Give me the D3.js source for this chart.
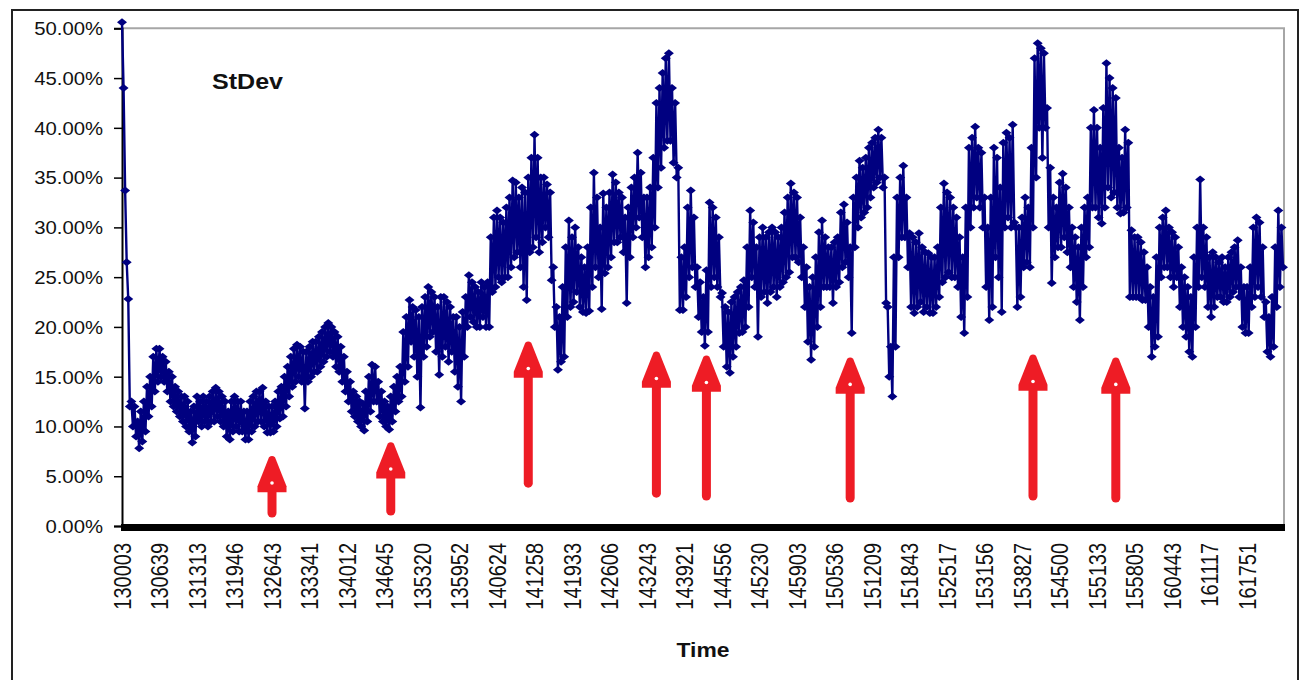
<!DOCTYPE html>
<html><head><meta charset="utf-8">
<script src="https://cdn.jsdelivr.net/npm/d3@7/dist/d3.min.js"></script>
<style>body{margin:0;background:#fff}svg{display:block}</style>
</head><body><svg id="c" width="1306" height="680"></svg>
<script>
// ---- data ----
const timeLabels = ["130003","130639","131313","131946","132643","133341","134012","134645","135320","135952",
  "140624","141258","141933","142606","143243","143921","144556","145230","145903","150536",
  "151209","151843","152517","153156","153827","154500","155133","155805","160443","161117","161751"];
const pointsPerLabel = 24;
// StDev readings (%), consecutive samples swing between the upper and lower edge of the band
const stdevValues = [
 50.6,44.0, 33.7,26.5, 22.8,12.0, 12.5,10.0, 12.0,9.0, 10.5,7.8, 11.5,8.5, 12.5,9.5, 14.0,11.0, 15.0,12.0, 17.0,13.5, 17.8,14.5,
 17.8,15.0, 17.0,14.5, 16.5,13.5, 15.5,12.5, 15.0,12.0, 14.0,11.5, 13.5,11.0, 13.0,10.5, 13.0,10.0, 12.5,9.5, 11.5,8.4, 12.0,9.0,
 13.0,10.5, 12.5,10.0, 13.0,10.5, 12.5,10.0, 13.0,10.5, 13.5,10.5, 13.9,11.0, 13.5,10.5, 13.0,10.0, 12.5,9.0, 11.5,8.7, 12.5,9.5,
 13.0,10.0, 12.5,9.5, 12.5,9.5, 11.5,8.7, 11.5,8.7, 12.5,9.5, 13.0,10.0, 13.5,10.5, 13.5,10.5, 13.9,10.0, 12.5,9.4, 12.0,9.4,
 12.0,9.5, 12.5,10.0, 13.5,10.8, 14.0,11.0, 15.0,12.0, 16.0,13.0, 17.0,14.0, 17.8,14.5, 18.2,15.0, 18.0,14.5, 17.5,11.8, 17.5,14.5,
 18.0,15.0, 18.5,15.5, 18.5,15.5, 19.0,16.0, 19.5,16.5, 20.0,17.0, 20.4,17.5, 20.0,17.0, 19.5,16.0, 19.0,15.5, 18.0,14.5, 17.0,13.5,
 15.5,12.5, 14.5,11.5, 13.5,11.0, 13.0,10.5, 12.5,10.0, 12.3,9.6, 13.5,10.5, 15.0,11.5, 16.2,12.5, 16.0,12.5, 14.5,11.0, 13.5,10.5,
 12.5,10.0, 12.0,9.7, 13.0,10.5, 14.0,11.5, 15.0,12.5, 16.0,13.0, 19.5,14.5, 21.0,16.0, 22.7,18.5, 22.0,17.0, 21.7,15.0, 21.0,11.9,
 22.0,17.0, 23.0,18.0, 24.0,19.0, 23.5,19.5, 23.0,17.5, 22.0,15.2, 23.0,17.0, 23.0,18.0, 22.5,16.5, 22.0,17.5, 21.0,15.5, 21.0,14.0,
 20.0,12.5, 21.5,17.0, 23.0,20.0, 25.2,21.0, 24.5,20.5, 24.0,20.0, 23.5,20.0, 24.5,21.0, 24.0,20.0, 24.5,20.0, 29.0,23.5, 31.0,24.0,
 31.7,25.0, 31.0,24.5, 30.5,25.0, 32.0,25.0, 33.0,26.0, 34.7,27.0, 34.5,27.5, 33.0,26.0, 34.0,24.0, 33.5,22.7, 35.0,27.5, 37.0,28.0,
 39.3,29.0, 37.0,27.5, 35.0,28.5, 35.0,30.0, 34.3,29.0, 33.5,24.7, 26.0,20.0, 22.0,15.7, 21.0,16.5, 24.0,17.0, 28.0,21.0, 30.7,22.0,
 29.0,22.5, 30.0,23.5, 28.0,22.0, 27.0,21.5, 26.0,21.4, 28.0,21.6, 32.0,24.0, 35.5,26.0, 33.0,25.0, 30.0,21.8, 33.4,25.4, 32.0,26.0,
 33.5,27.0, 35.3,28.5, 34.5,28.5, 33.5,29.0, 33.0,27.5, 31.0,22.4, 32.0,27.0, 34.0,29.0, 35.0,30.0, 37.5,31.0, 35.5,29.0, 33.0,26.0,
 33.0,27.0, 34.0,28.0, 37.0,30.0, 42.5,34.0, 44.0,36.0, 45.5,38.0, 47.0,38.7, 47.5,38.7, 44.0,36.5, 42.5,35.0, 36.0,21.7, 27.0,21.7,
 28.0,23.0, 32.0,25.0, 33.7,26.0, 31.0,24.0, 26.0,21.0, 24.5,19.5, 23.0,18.1, 25.7,19.5, 32.5,24.0, 32.0,25.0, 31.0,24.0, 29.0,23.0,
 23.4,18.0, 22.0,16.0, 21.5,15.4, 22.5,17.0, 23.0,18.0, 23.5,19.4, 24.0,19.5, 24.7,20.0, 28.0,22.0, 31.7,25.0, 30.5,24.0, 28.0,19.0,
 29.0,23.0, 30.0,23.5, 29.0,22.4, 29.5,23.5, 30.0,24.0, 29.5,23.0, 29.0,24.0, 30.0,24.5, 31.5,25.0, 33.0,25.5, 34.4,27.0, 33.5,27.0,
 33.0,26.5, 31.0,25.0, 28.0,22.0, 26.0,18.5, 24.0,16.7, 25.0,18.0, 27.0,20.0, 29.5,22.0, 30.7,24.0, 29.0,24.0, 28.0,24.0, 28.0,22.4,
 28.5,24.0, 29.0,24.5, 31.5,26.0, 32.3,26.5, 30.5,25.0, 28.0,19.4, 33.0,28.0, 35.0,30.0, 36.7,31.0, 36.0,31.5, 37.0,32.0, 38.0,33.0,
 38.5,34.0, 39.0,34.5, 39.8,35.0, 39.0,34.0, 35.0,22.4, 22.0,15.0, 18.0,13.0, 27.0,18.0, 33.0,27.0, 35.0,29.0, 36.2,29.0, 33.0,26.0,
 29.4,22.0, 29.0,21.4, 28.5,22.0, 29.4,22.5, 28.0,21.5, 27.5,22.0, 27.4,21.4, 27.0,21.4, 27.0,22.0, 28.0,23.0, 32.0,24.5, 34.4,25.0,
 33.5,25.5, 33.0,25.0, 32.0,25.0, 31.0,24.0, 29.0,21.0, 27.0,19.4, 32.0,23.0, 38.0,30.0, 39.0,32.0, 40.1,33.0, 38.0,32.0, 37.5,30.0,
 33.0,24.0, 30.0,20.7, 33.0,22.0, 38.0,27.0, 37.0,25.0, 34.0,21.5, 38.5,30.0, 39.5,31.0, 39.0,30.0, 40.3,30.5, 30.0,22.0, 30.0,23.0,
 31.0,26.0, 33.0,26.5, 32.0,26.0, 38.0,30.0, 47.0,35.0, 48.5,40.0, 48.0,37.0, 47.5,40.0, 42.0,30.0, 36.0,24.4, 33.0,27.0, 32.0,28.0,
 34.5,28.0, 35.4,29.0, 34.0,27.5, 32.0,26.0, 30.0,24.0, 29.0,22.5, 28.0,20.7, 30.0,24.0, 32.0,27.0, 33.0,28.0, 40.0,32.0, 41.8,32.0,
 40.0,31.0, 38.0,30.4, 42.0,32.0, 46.5,34.0, 45.0,33.0, 44.0,33.5, 43.0,32.0, 38.0,31.4, 37.0,31.5, 39.8,32.0, 38.5,23.0, 29.7,23.0,
 29.0,23.0, 29.0,23.0, 28.5,22.7, 27.5,22.7, 26.0,20.0, 24.0,17.0, 23.0,18.0, 27.0,19.0, 30.0,25.0, 31.0,26.0, 31.7,26.0, 30.0,25.0,
 29.5,24.0, 29.0,25.0, 28.0,22.0, 26.0,20.0, 25.0,19.0, 24.0,17.5, 23.0,17.0, 27.0,20.0, 30.0,24.0, 34.8,25.0, 30.0,24.0, 29.0,22.0,
 27.0,21.0, 27.5,22.0, 27.0,23.0, 26.5,23.0, 27.0,22.5, 26.0,22.5, 27.0,23.0, 27.5,23.5, 28.0,24.0, 28.7,23.0, 26.0,20.0, 24.0,19.4,
 24.0,19.4, 26.0,22.0, 30.0,23.0, 31.0,24.0, 30.5,23.0, 28.0,21.0, 22.5,17.5, 21.0,17.0, 23.0,18.0, 28.0,22.0, 31.7,24.0, 30.0,26.0
];
const yTickValues = [0,5,10,15,20,25,30,35,40,45,50];
// red annotation arrows: position (sample index), head tip and tail (in %)
const arrowAt     = [96, 172, 260, 342, 374, 466, 583, 636];
const arrowTip    = [7.0, 8.4, 18.5, 17.5, 17.1, 16.9, 17.2, 16.9];
const arrowTail   = [0.9, 1.1, 3.9, 2.9, 2.6, 2.4, 2.6, 2.4];

// ---- layout ----
const svg = d3.select("#c");
const L = 122, R = 1284, T = 28.3, B = 526;
const x = d3.scaleLinear().domain([0, stdevValues.length - 1]).range([L, R - 1]);
const y = d3.scaleLinear().domain([0, 50]).range([B, T]);
const navy = "#000080", red = "#ee1c25";
const stretch = 1.16;

// outer frame
svg.append("rect").attr("x", 12).attr("y", 10).attr("width", 1286).attr("height", 690)
  .attr("fill", "#fff").attr("stroke", "#222").attr("stroke-width", 2);

// plot border (top and right, grey)
svg.append("path").attr("d", `M${L},${T}H${R}V${B}`)
  .attr("fill", "none").attr("stroke", "#a6a6a6").attr("stroke-width", 2);

// y axis
const yAxis = svg.append("g").attr("transform", `translate(${L},0)`)
  .call(d3.axisLeft(y).tickValues(yTickValues).tickSize(8).tickPadding(11)
    .tickFormat(d => d.toFixed(2) + "%"));
yAxis.select(".domain").attr("stroke", "#000").attr("stroke-width", 2);
yAxis.selectAll(".tick line").attr("stroke", "#000").attr("stroke-width", 1.5);
yAxis.selectAll(".tick text")
  .attr("font-family", "Liberation Sans, Arial, sans-serif")
  .attr("font-size", 17.5).attr("fill", "#111").attr("dy", "0.36em")
  .each(function () {
    const w = this.getComputedTextLength();
    d3.select(this).attr("textLength", w * stretch).attr("lengthAdjust", "spacingAndGlyphs");
  });

// x axis labels
const xAxis = svg.append("g").attr("transform", `translate(0,${B})`)
  .call(d3.axisBottom(x).tickValues(timeLabels.map((_, i) => i * pointsPerLabel))
    .tickSize(0).tickFormat((d, i) => timeLabels[i]));
xAxis.select(".domain").remove();
xAxis.selectAll(".tick text")
  .attr("font-family", "Liberation Sans, Arial, sans-serif")
  .attr("font-size", 20).attr("fill", "#111")
  .attr("text-anchor", "end").attr("y", 0).attr("dy", "0.36em")
  .attr("transform", `translate(0,17) scale(${stretch},1) rotate(-90)`);

// thick category axis line
svg.append("line").attr("x1", L - 1).attr("x2", R + 1)
  .attr("y1", y(0) + 1.5).attr("y2", y(0) + 1.5)
  .attr("stroke", "#000").attr("stroke-width", 7);

// series line
const line = d3.line().x((d, i) => x(i)).y(d => y(d));
svg.append("path").datum(stdevValues).attr("d", line)
  .attr("fill", "none").attr("stroke", navy).attr("stroke-width", 2.4)
  .attr("stroke-linejoin", "round");

// diamond markers
svg.append("g").selectAll("path").data(stdevValues).join("path")
  .attr("d", "M0,-4L5,0L0,4L-5,0Z")
  .attr("transform", (d, i) => `translate(${x(i)},${y(d)})`)
  .attr("fill", navy);

// series label
svg.append("text").attr("x", 212).attr("y", 89)
  .attr("font-family", "Liberation Sans, Arial, sans-serif")
  .attr("font-size", 22).attr("font-weight", "bold").attr("fill", "#111")
  .attr("textLength", 71).attr("lengthAdjust", "spacingAndGlyphs").text("StDev");

// axis title
svg.append("text").attr("x", 703).attr("y", 657).attr("text-anchor", "middle")
  .attr("font-family", "Liberation Sans, Arial, sans-serif")
  .attr("font-size", 20).attr("font-weight", "bold").attr("fill", "#111")
  .attr("textLength", 53).attr("lengthAdjust", "spacingAndGlyphs").text("Time");

// arrows
const arrows = arrowAt.map((a, k) => ({ a, tip: arrowTip[k], tail: arrowTail[k] }));
const ag = svg.append("g").selectAll("g").data(arrows).join("g");
const headH = 36, headW = 14.5;
ag.append("line")
  .attr("x1", d => x(d.a)).attr("x2", d => x(d.a))
  .attr("y1", d => y(d.tip) + headH - 2).attr("y2", d => y(d.tail) - 4)
  .attr("stroke", red).attr("stroke-width", 9).attr("stroke-linecap", "round");
ag.append("path").attr("fill", red)
  .attr("d", d => {
    const cx = x(d.a), t = y(d.tip), b = t + headH;
    return `M${cx - 3},${t + 1}Q${cx},${t - 1.5} ${cx + 3},${t + 1}L${cx + headW},${b - 6}L${cx + headW},${b}L${cx - headW},${b}L${cx - headW},${b - 6}Z`;
  });
ag.append("circle").attr("fill", "#fff").attr("r", 1.8)
  .attr("cx", d => x(d.a)).attr("cy", d => y(d.tip) + headH * 0.74);
</script>
</body></html>
